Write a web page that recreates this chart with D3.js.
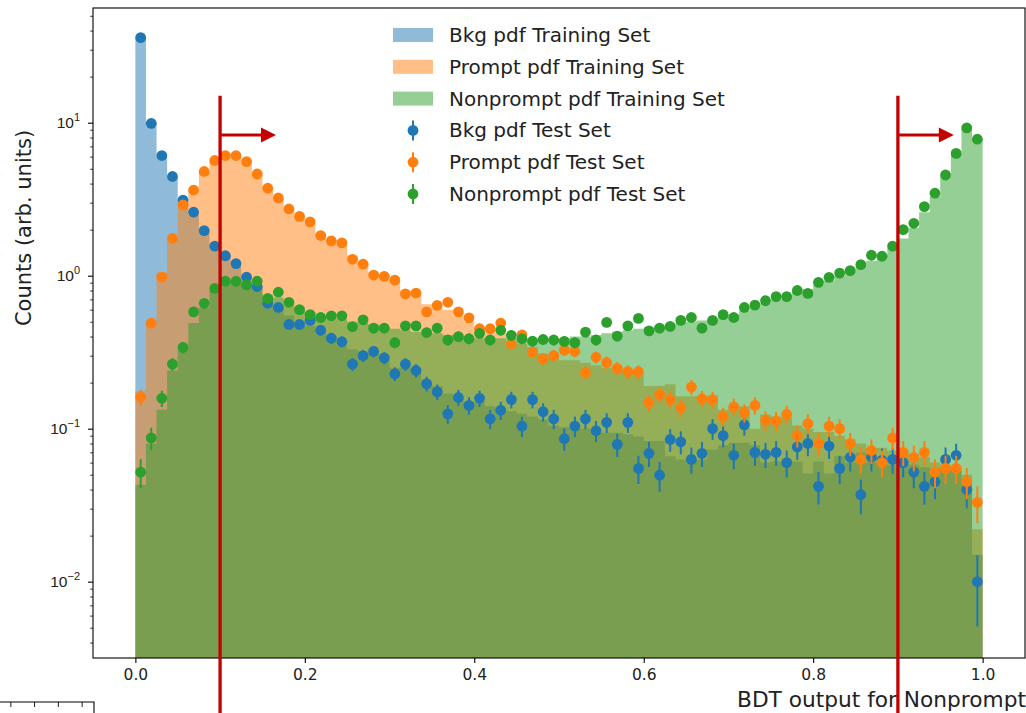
<!DOCTYPE html>
<html>
<head>
<meta charset="utf-8">
<script src="https://cdn.jsdelivr.net/npm/d3@7"></script>
<style>
  html, body { margin: 0; padding: 0; background: #fff; }
  svg { display: block; font-family: "DejaVu Sans", sans-serif; }
</style>
</head>
<body>
<svg id="chart" width="1026" height="713"></svg>
<script>
// BDT output histograms: 80 bins on [0, 1]
const nBins = 80;
const binEdges = d3.range(nBins + 1).map(i => i / nBins);

// Training-set pdfs (step-filled histograms)
const bkgTrain = [36, 10, 6.0, 4.4, 3.1, 2.5, 2.0, 1.6, 1.35, 1.15,
  1.0, 0.86, 0.72, 0.63, 0.55, 0.5, 0.47, 0.43, 0.4, 0.35,
  0.33, 0.32, 0.31, 0.28, 0.25, 0.25, 0.23, 0.2, 0.19, 0.17,
  0.16, 0.15, 0.15, 0.14, 0.135, 0.13, 0.125, 0.12, 0.115, 0.105,
  0.102, 0.102, 0.1, 0.094, 0.094, 0.094, 0.092, 0.089, 0.083, 0.083,
  0.066, 0.063, 0.063, 0.063, 0.073, 0.078, 0.081, 0.081, 0.078, 0.06,
  0.061, 0.061, 0.061, 0.051, 0.061, 0.051, 0.066, 0.06, 0.07, 0.06,
  0.06, 0.058, 0.06, 0.058, 0.056, 0.055, 0.055, 0.055, 0.045, 0.015];

const promptTrain = [0.176, 0.49, 1.05, 1.75, 3.0, 3.6, 4.8, 5.6, 6.1, 6.0,
  5.6, 4.7, 3.8, 3.2, 2.75, 2.45, 2.2, 1.9, 1.7, 1.6,
  1.35, 1.2, 1.05, 1.0, 0.92, 0.8, 0.76, 0.65, 0.62, 0.6,
  0.55, 0.5, 0.46, 0.44, 0.42, 0.37, 0.36, 0.34, 0.31, 0.29,
  0.28, 0.28, 0.27, 0.26, 0.25, 0.245, 0.24, 0.23, 0.19, 0.19,
  0.195, 0.163, 0.163, 0.163, 0.165, 0.133, 0.14, 0.14, 0.10, 0.124,
  0.12, 0.118, 0.105, 0.1, 0.095, 0.095, 0.09, 0.085, 0.08, 0.075,
  0.075, 0.072, 0.07, 0.068, 0.065, 0.06, 0.058, 0.055, 0.05, 0.022];

const nonpromptTrain = [0.043, 0.08, 0.133, 0.24, 0.33, 0.49, 0.62, 0.8, 0.92, 0.92,
  0.88, 0.85, 0.75, 0.72, 0.66, 0.62, 0.58, 0.55, 0.53, 0.52,
  0.5, 0.49, 0.48, 0.46, 0.45, 0.44, 0.43, 0.42, 0.42, 0.41,
  0.4, 0.4, 0.39, 0.39, 0.39, 0.39, 0.39, 0.39, 0.39, 0.39,
  0.39, 0.4, 0.4, 0.41, 0.42, 0.43, 0.44, 0.45, 0.46, 0.47,
  0.48, 0.49, 0.5, 0.51, 0.52, 0.54, 0.56, 0.59, 0.62, 0.66,
  0.7, 0.74, 0.78, 0.82, 0.87, 0.93, 1.0, 1.07, 1.15, 1.25,
  1.37, 1.52, 1.75, 2.05, 2.6, 3.3, 4.5, 6.3, 9.2, 7.8];

// Test-set pdfs (points with statistical error bars)
const bkgTest = [36, 9.9, 6.1, 4.45, 3.12, 2.6, 1.97, 1.56, 1.35, 1.2,
  0.98, 0.85, 0.66, 0.62, 0.48, 0.48, 0.51, 0.44, 0.39, 0.37,
  0.264, 0.3, 0.32, 0.29, 0.228, 0.264, 0.24, 0.197, 0.174, 0.125,
  0.16, 0.142, 0.158, 0.116, 0.132, 0.155, 0.104, 0.155, 0.129, 0.116,
  0.086, 0.104, 0.116, 0.097, 0.11, 0.079, 0.11, 0.055, 0.069, 0.0496,
  0.085, 0.082, 0.063, 0.069, 0.1, 0.09, 0.067, 0.106, 0.07, 0.068,
  0.07, 0.06, 0.076, 0.08, 0.042, 0.077, 0.055, 0.065, 0.037, 0.065,
  0.062, 0.063, 0.06, 0.052, 0.042, 0.045, 0.063, 0.067, 0.04, 0.01];

const promptTest = [0.161, 0.49, 0.98, 1.75, 2.9, 3.63, 4.8, 5.66, 6.1, 6.1,
  5.57, 4.62, 3.73, 3.22, 2.73, 2.44, 2.25, 1.83, 1.69, 1.64,
  1.28, 1.19, 1.01, 0.99, 0.935, 0.76, 0.77, 0.58, 0.64, 0.67,
  0.58, 0.53, 0.45, 0.45, 0.49, 0.36, 0.41, 0.316, 0.286, 0.3,
  0.326, 0.32, 0.232, 0.293, 0.27, 0.248, 0.236, 0.236, 0.148, 0.167,
  0.155, 0.137, 0.187, 0.157, 0.155, 0.12, 0.139, 0.127, 0.142, 0.113,
  0.112, 0.124, 0.09, 0.108, 0.08, 0.104, 0.1, 0.08, 0.063, 0.072,
  0.06, 0.087, 0.07, 0.065, 0.07, 0.052, 0.055, 0.055, 0.045, 0.033];

const nonpromptTest = [0.052, 0.087, 0.158, 0.264, 0.34, 0.58, 0.66, 0.826, 0.92, 0.92,
  0.87, 0.92, 0.71, 0.78, 0.67, 0.6, 0.556, 0.533, 0.547, 0.547,
  0.464, 0.515, 0.454, 0.454, 0.365, 0.47, 0.47, 0.425, 0.454, 0.38,
  0.4, 0.387, 0.42, 0.38, 0.44, 0.407, 0.387, 0.373, 0.383, 0.38,
  0.372, 0.365, 0.428, 0.38, 0.495, 0.403, 0.47, 0.526, 0.436, 0.454,
  0.466, 0.51, 0.533, 0.454, 0.51, 0.556, 0.533, 0.62, 0.642, 0.686,
  0.73, 0.73, 0.8, 0.766, 0.904, 0.975, 1.04, 1.08, 1.18, 1.36,
  1.34, 1.56, 2.0, 2.2, 2.83, 3.46, 4.55, 6.3, 9.25, 7.8];

// Per-bin normalisation used for the Poisson error of each test point
const testNorm = 0.0024;

// Selection cuts drawn as red markers, with arrow direction/length
const cutValues = [0.1, 0.9];
const cutTop = 15;          // y value where the cut line starts
const arrowLevel = 8.3;     // y value of the arrow
const arrowLength = 0.066;  // arrow length in BDT units

const xTickValues = [0.0, 0.2, 0.4, 0.6, 0.8, 1.0];
const yTickExponents = [-2, -1, 0, 1];

const seriesNames = ["Bkg", "Prompt", "Nonprompt"];
const colors = ["#1f77b4", "#ff7f0e", "#2ca02c"];

// ---------------------------------------------------------------
const svg = d3.select("#chart");
const W = 1026, H = 713;
const plot = { left: 93, right: 1025, top: 8, bottom: 658 };

const x = d3.scaleLinear().domain([-0.05, 1.05]).range([plot.left, plot.right]);
const y = d3.scaleLog().domain([0.00317, 56.2]).range([plot.bottom, plot.top]);

svg.append("rect").attr("width", W).attr("height", H).attr("fill", "#fff");

svg.append("defs").append("clipPath").attr("id", "plotClip")
  .append("rect")
  .attr("x", plot.left).attr("y", plot.top)
  .attr("width", plot.right - plot.left).attr("height", plot.bottom - plot.top);

const gPlot = svg.append("g").attr("clip-path", "url(#plotClip)");

// step-filled training histograms
const stepArea = d3.area()
  .x(d => x(d.x))
  .y0(plot.bottom + 5)
  .y1(d => y(d.v));

function stepPoints(vals) {
  const pts = [];
  vals.forEach((v, i) => {
    pts.push({ x: binEdges[i], v });
    pts.push({ x: binEdges[i + 1], v });
  });
  return pts;
}

[bkgTrain, promptTrain, nonpromptTrain].forEach((vals, k) => {
  gPlot.append("path")
    .attr("d", stepArea(stepPoints(vals)))
    .attr("fill", colors[k])
    .attr("fill-opacity", 0.5)
    .attr("stroke", "none");
});

// test-set points with error bars
const centers = d3.range(nBins).map(i => (binEdges[i] + binEdges[i + 1]) / 2);
[bkgTest, promptTest, nonpromptTest].forEach((vals, k) => {
  const g = gPlot.append("g");
  const data = vals.map((v, i) => ({ c: centers[i], v, e: Math.sqrt(v * testNorm) }));
  g.selectAll("line").data(data).join("line")
    .attr("x1", d => x(d.c)).attr("x2", d => x(d.c))
    .attr("y1", d => y(Math.max(d.v - d.e, 1e-4)))
    .attr("y2", d => y(d.v + d.e))
    .attr("stroke", colors[k]).attr("stroke-width", 2);
  g.selectAll("circle").data(data).join("circle")
    .attr("cx", d => x(d.c)).attr("cy", d => y(d.v))
    .attr("r", 5.4).attr("fill", colors[k]);
});

// axes frame
svg.append("rect")
  .attr("x", plot.left).attr("y", plot.top)
  .attr("width", plot.right - plot.left).attr("height", plot.bottom - plot.top)
  .attr("fill", "none").attr("stroke", "#000").attr("stroke-width", 1.1);

// x axis
const xAxis = d3.axisBottom(x).tickValues(xTickValues).tickFormat(d3.format(".1f"))
  .tickSize(5).tickPadding(6);
const gx = svg.append("g").attr("transform", `translate(0,${plot.bottom})`).call(xAxis);
gx.select(".domain").remove();
gx.selectAll(".tick line").attr("stroke", "#000").attr("stroke-width", 1.1);
gx.selectAll(".tick text").attr("font-size", 15.5).attr("fill", "#222")
  .attr("font-family", "DejaVu Sans");

// y axis: log minor ticks
const minorVals = [];
for (let e = -3; e <= 1; e++) {
  for (let m = 2; m <= 9; m++) {
    const v = m * Math.pow(10, e);
    if (v >= y.domain()[0] && v <= y.domain()[1]) minorVals.push(v);
  }
}
const gyMinor = svg.append("g").attr("transform", `translate(${plot.left},0)`)
  .call(d3.axisLeft(y).tickValues(minorVals).tickSize(2.8).tickFormat(""));
gyMinor.select(".domain").remove();
gyMinor.selectAll(".tick line").attr("stroke", "#000").attr("stroke-width", 0.8);

const gy = svg.append("g").attr("transform", `translate(${plot.left},0)`)
  .call(d3.axisLeft(y).tickValues(yTickExponents.map(e => Math.pow(10, e)))
    .tickSize(5).tickFormat(""));
gy.select(".domain").remove();
gy.selectAll(".tick line").attr("stroke", "#000").attr("stroke-width", 1.1);
gy.selectAll(".tick").each(function (d) {
  const ex = Math.round(Math.log10(d));
  const t = d3.select(this).append("text")
    .attr("x", -13).attr("y", 5)
    .attr("text-anchor", "end")
    .attr("fill", "#222")
    .attr("font-size", 15.5);
  t.append("tspan").text("10");
  t.append("tspan").attr("dy", -7).attr("font-size", 11)
    .text(ex < 0 ? "\u2212" + Math.abs(ex) : String(ex));
});

// axis labels
svg.append("text")
  .attr("transform", `translate(31,228) rotate(-90)`)
  .attr("text-anchor", "middle")
  .attr("font-size", 21).attr("fill", "#222")
  .text("Counts (arb. units)");

svg.append("text")
  .attr("x", 737).attr("y", 707)
  .attr("font-size", 21.7).attr("fill", "#222")
  .text("BDT output for Nonprompt");

// cut markers with arrows
const red = "#c40000";
cutValues.forEach(c => {
  svg.append("line")
    .attr("x1", x(c)).attr("x2", x(c))
    .attr("y1", y(cutTop)).attr("y2", H)
    .attr("stroke", red).attr("stroke-width", 3.3);
  const xa = x(c), xb = x(c + arrowLength), ya = y(arrowLevel);
  svg.append("line")
    .attr("x1", xa).attr("x2", xb - 14)
    .attr("y1", ya).attr("y2", ya)
    .attr("stroke", red).attr("stroke-width", 3);
  svg.append("path")
    .attr("d", `M${xb},${ya} L${xb - 15},${ya - 7.5} L${xb - 15},${ya + 7.5} Z`)
    .attr("fill", red);
});

// legend
const legendItems = [
  { label: "Bkg pdf Training Set", k: 0, type: "patch" },
  { label: "Prompt pdf Training Set", k: 1, type: "patch" },
  { label: "Nonprompt pdf Training Set", k: 2, type: "patch" },
  { label: "Bkg pdf Test Set", k: 0, type: "point" },
  { label: "Prompt pdf Test Set", k: 1, type: "point" },
  { label: "Nonprompt pdf Test Set", k: 2, type: "point" }
];
const legend = svg.append("g").attr("transform", "translate(393,35)");
legendItems.forEach((it, i) => {
  const g = legend.append("g").attr("transform", `translate(0,${i * 31.8})`);
  if (it.type === "patch") {
    g.append("rect").attr("x", 0).attr("y", -7).attr("width", 40).attr("height", 14)
      .attr("fill", colors[it.k]).attr("fill-opacity", 0.5);
  } else {
    g.append("line").attr("x1", 20).attr("x2", 20).attr("y1", -10).attr("y2", 10)
      .attr("stroke", colors[it.k]).attr("stroke-width", 2);
    g.append("circle").attr("cx", 20).attr("cy", 0).attr("r", 5.4).attr("fill", colors[it.k]);
  }
  g.append("text").attr("x", 56).attr("y", 7)
    .attr("font-size", 20).attr("fill", "#222")
    .text(it.label);
});

// corner of the neighbouring panel below
const frag = d3.scaleLinear().domain([0.565, 4.52]).range([0, 94]);
const gFrag = svg.append("g").attr("transform", "translate(0,702)")
  .call(d3.axisBottom(frag).tickValues([1, 2, 3, 4]).tickSize(5).tickFormat(""));
gFrag.select(".domain").attr("d", `M0,0H${frag(4.52)}V${H - 702}`)
  .attr("stroke", "#000").attr("stroke-width", 1.1).attr("fill", "none");
gFrag.selectAll(".tick line").attr("stroke", "#000").attr("stroke-width", 0.9);
</script>
</body>
</html>
